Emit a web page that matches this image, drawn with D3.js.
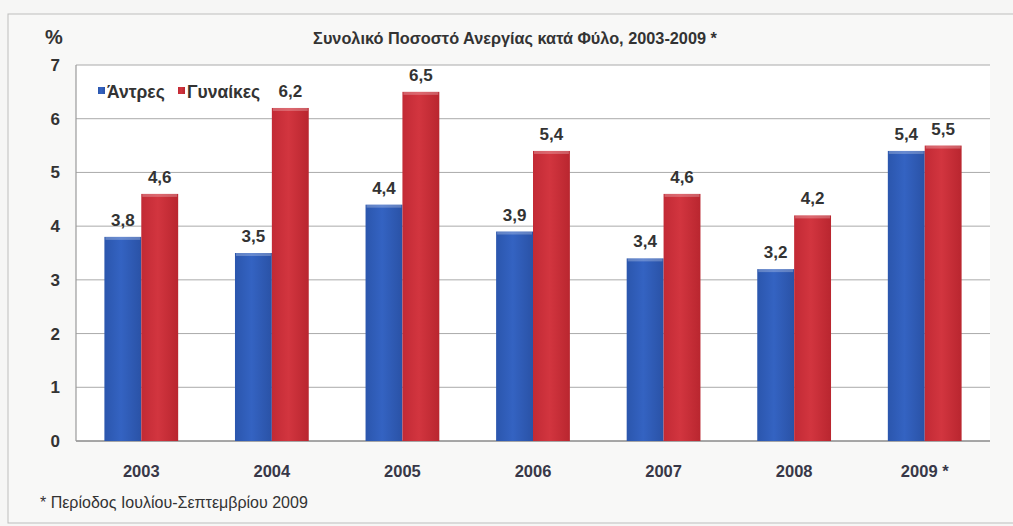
<!DOCTYPE html>
<html><head><meta charset="utf-8">
<script src="https://cdn.jsdelivr.net/npm/d3@7"></script>
<style>
body{margin:0;background:#f6f6f5;}
svg{display:block;font-family:"Liberation Sans",Arial,sans-serif;}
</style></head>
<body><svg id="c" width="1013" height="526"></svg>
<script>
const years = ["2003","2004","2005","2006","2007","2008","2009 *"];
const men = [3.8,3.5,4.4,3.9,3.4,3.2,5.4];
const women = [4.6,6.2,6.5,5.4,4.6,4.2,5.5];
const seriesNames = ["Άντρες","Γυναίκες"];
const yTicks = [0,1,2,3,4,5,6,7];
const title = "Συνολικό Ποσοστό Ανεργίας κατά Φύλο, 2003-2009 *";
const footnote = "* Περίοδος Ιουλίου-Σεπτεμβρίου 2009";

const svg = d3.select("#c");
const defs = svg.append("defs");
function grad(id, c1, c2, c3){
  const g = defs.append("linearGradient").attr("id",id).attr("x1","0").attr("x2","1").attr("y1","0").attr("y2","0");
  g.append("stop").attr("offset","0").attr("stop-color",c1);
  g.append("stop").attr("offset","0.45").attr("stop-color",c2);
  g.append("stop").attr("offset","1").attr("stop-color",c3);
}
grad("gb","#2b56ad","#3463c2","#2a52a6");
grad("gr","#c22a35","#d2353f","#b9262f");

svg.append("rect").attr("x",8).attr("y",14).attr("width",1010).attr("height",509)
  .attr("fill","#f8f8f7").attr("stroke","#bdbdbd").attr("stroke-width",1);

const L=76, R=990, T=65, B=441;
svg.append("rect").attr("x",L).attr("y",T).attr("width",R-L).attr("height",B-T).attr("fill","#ffffff");

const y = d3.scaleLinear().domain([0,7]).range([B,T]);
const x0 = d3.scaleBand().domain(years).range([L,R]).paddingInner(0.435).paddingOuter(0.2175);
const x1 = d3.scaleBand().domain(seriesNames).range([0,x0.bandwidth()]);

// gridlines
svg.append("g").selectAll("line").data(yTicks).join("line")
  .attr("x1",L).attr("x2",R).attr("y1",d=>y(d)).attr("y2",d=>y(d))
  .attr("stroke",d=>d===0?"#8a8a8a":"#aaaaaa").attr("stroke-width",d=>d===0?1.5:1);
svg.append("line").attr("x1",L).attr("x2",L).attr("y1",T).attr("y2",B).attr("stroke","#9a9a9a").attr("stroke-width",1.2);

// y axis labels
const yAxis = d3.axisLeft(y).tickValues(yTicks).tickFormat(d3.format("d")).tickSize(0).tickPadding(16);
const ya = svg.append("g").attr("transform",`translate(${L},0)`).call(yAxis);
ya.select(".domain").remove();
ya.selectAll("text").attr("font-size",17).attr("font-weight","bold").attr("fill","#333").attr("font-family","Liberation Sans, Arial, sans-serif");

// x axis labels
const xAxis = d3.axisBottom(x0).tickSize(0).tickPadding(24);
const xa = svg.append("g").attr("transform",`translate(0,${B})`).call(xAxis);
xa.select(".domain").remove();
xa.selectAll("text").attr("font-size",16.5).attr("font-weight","bold").attr("fill","#383848").attr("font-family","Liberation Sans, Arial, sans-serif");

const data = years.map((yr,i)=>({yr, vals:[{s:seriesNames[0],v:men[i]},{s:seriesNames[1],v:women[i]}]}));
const fills = {"Άντρες":"url(#gb)","Γυναίκες":"url(#gr)"};
const groups = svg.append("g").selectAll("g").data(data).join("g")
  .attr("transform",d=>`translate(${x0(d.yr)},0)`);
groups.selectAll("rect").data(d=>d.vals).join("rect")
  .attr("x",d=>x1(d.s)).attr("width",x1.bandwidth())
  .attr("y",d=>y(d.v)).attr("height",d=>B-y(d.v))
  .attr("fill",d=>fills[d.s]);
// top bevel
groups.selectAll("rect.top").data(d=>d.vals).join("rect").attr("class","top")
  .attr("x",d=>x1(d.s)+1).attr("width",x1.bandwidth()-2)
  .attr("y",d=>y(d.v)).attr("height",3)
  .attr("fill","#ffffff").attr("opacity",0.25);
groups.selectAll("text").data(d=>d.vals).join("text")
  .attr("x",d=>x1(d.s)+x1.bandwidth()/2).attr("y",d=>y(d.v)-11)
  .attr("text-anchor","middle").attr("font-size",17).attr("font-weight","bold").attr("fill","#333")
  .text(d=>String(d.v).replace(".",","));

// title
svg.append("text").attr("x",515).attr("y",44).attr("text-anchor","middle")
  .attr("font-size",16.3).attr("font-weight","bold").attr("fill","#333").text(title);
svg.append("text").attr("x",54).attr("y",44).attr("text-anchor","middle")
  .attr("font-size",20).attr("font-weight","bold").attr("fill","#333").text("%");

// legend
const leg = svg.append("g").attr("transform","translate(98,98)");
const legX = [0,80];
seriesNames.forEach((s,i)=>{
  leg.append("rect").attr("x",legX[i]).attr("y",-11).attr("width",7).attr("height",7).attr("fill",fills[s]);
  leg.append("text").attr("x",legX[i]+9).attr("y",0).attr("font-size",17.5).attr("font-weight","bold").attr("fill","#333").text(s);
});

svg.append("text").attr("x",40).attr("y",508).attr("font-size",16).attr("fill","#333").text(footnote);
</script></body></html>
